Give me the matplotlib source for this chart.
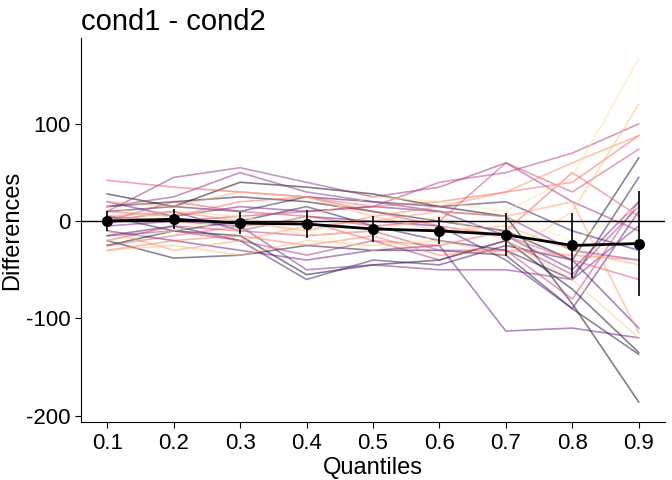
import matplotlib
matplotlib.use("Agg")
import matplotlib.pyplot as plt
import numpy as np

plt.rcParams['font.family'] = ['Liberation Sans', 'DejaVu Sans']
plt.rcParams['axes.unicode_minus'] = False

quantiles = [0.1, 0.2, 0.3, 0.4, 0.5, 0.6, 0.7, 0.8, 0.9]
participants = [
    [28, 15, 40, 35, 28, 15, 5, -85, -186],
    [-25, -10, -15, -55, -45, -40, -20, -70, -135],
    [15, 20, 25, 20, 10, 0, -10, -40, 65],
    [-20, -38, -35, -25, -30, -30, -35, -90, -137],
    [5, -10, 0, 15, -5, -20, -30, -60, 45],
    [10, 15, 10, 25, 20, 15, 20, -10, -30],
    [-15, -5, -20, -60, -40, -45, -25, -40, -110],
    [0, 10, -10, 5, 0, -5, -40, -90, 10],
    [-10, -20, -30, -40, -30, -25, -113, -110, -120],
    [20, 5, 15, 10, 15, 10, -15, -50, 20],
    [-5, 0, -5, -50, -45, -50, -50, -60, -5],
    [15, 25, 50, 30, 20, 10, 5, -30, -40],
    [10, 45, 55, 40, 25, 35, 60, 20, -10],
    [-15, -10, -20, -35, -20, -40, -20, -55, 15],
    [5, 0, 5, 10, 15, 40, 50, 70, 100],
    [-20, -5, -10, -15, -10, -30, -30, -80, 20],
    [0, 20, 10, 5, -5, 0, 60, 30, 74],
    [42, 35, 30, 25, 10, -5, -15, -40, -60],
    [-25, -15, -5, 0, -20, -25, -10, 50, 5],
    [10, 5, 20, 25, 15, 20, 30, 40, 88],
    [-30, -20, -15, -25, -15, -35, -30, -35, -40],
    [5, 10, 0, -10, 5, 15, 30, 60, 88],
    [-10, -30, -20, -5, 0, 10, 5, 20, -115],
    [20, 15, 30, 25, 5, -10, -5, -30, -45],
    [-30, -25, -35, -20, -25, -20, -35, 10, 120],
    [0, 10, 5, -15, -10, 5, -20, -60, -120],
    [15, 0, -10, 5, 25, 20, 10, 45, 167],
    [-20, -10, 5, -10, -30, -15, 5, -20, 15],
]
means = [0, 2, -2, -3, -8, -10, -14, -25, -23]
ci_low = [-10, -8, -13, -17, -21, -24, -36, -58, -77]
ci_high = [10, 12, 9, 11, 5, 4, 8, 8, 31]

fig, ax = plt.subplots(figsize=(6.72, 4.8), dpi=100)
cols = plt.cm.magma(np.linspace(0, 0.97, len(participants)))
for p, c in zip(participants, cols):
    ax.plot(quantiles, p, color=c, alpha=0.5, lw=1.2)
ax.axhline(0, color="black", lw=1)
m = np.array(means)
ax.errorbar(quantiles, means, yerr=[m - np.array(ci_low), np.array(ci_high) - m],
            color="black", lw=2, elinewidth=1.2, marker="o", ms=7, capsize=0, zorder=5)
ax.set_xlim(0.06, 0.94)
ax.set_ylim(-207, 188)
ax.set_xticks(quantiles)
ax.set_xticklabels([str(q) for q in quantiles])
ax.set_yticks([-200, -100, 0, 100])
ax.tick_params(labelsize=16, colors="black", length=4)
ax.set_xlabel("Quantiles", fontsize=17, labelpad=2)
ax.set_ylabel("Differences", fontsize=17, labelpad=2)
ax.set_title("cond1 - cond2", fontsize=21, loc="left")
for s in ["top", "right"]:
    ax.spines[s].set_visible(False)
fig.subplots_adjust(left=0.12, right=0.99, top=0.92, bottom=0.12)
fig.savefig("out.png")
